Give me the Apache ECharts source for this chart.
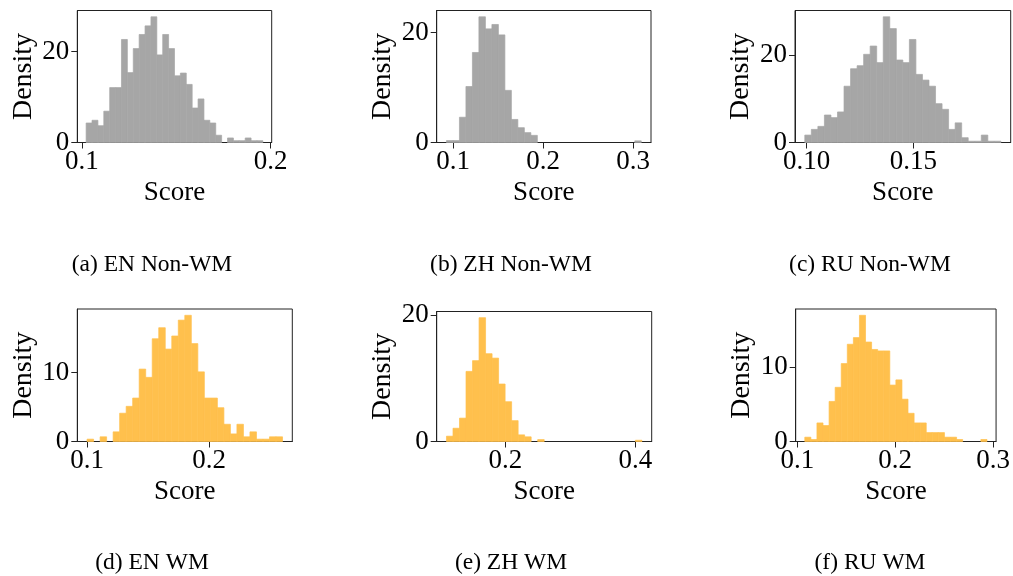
<!DOCTYPE html>
<html lang="en">
<head>
<meta charset="UTF-8">
<title>Score density histograms</title>
<style>
  html, body { margin: 0; padding: 0; background: #fff; }
  #main { width: 1013px; height: 576px; }
</style>
</head>
<body>
<div id="main"></div>
<script src="https://cdn.jsdelivr.net/npm/echarts@6/dist/echarts.min.js"></script>
<script>
// each panel: first bin edge, bin width, density of the 30 bins
var enNonStart = 0.1023, enNonWidth = 0.003119;
var enNonDensity = [4.3, 4.9, 3.7, 6.9, 12.1, 12.1, 22.7, 15.4, 20.7, 23.8, 25.7, 27.7, 19.3, 23.8, 20.7,
    14.7, 15.3, 12.8, 7.6, 9.6, 4.9, 4.3, 1.6, 0, 1.0, 0.4, 0.4, 1.0, 0.4, 0.4];

var zhNonStart = 0.0927, zhNonWidth = 0.00721;
var zhNonDensity = [0.35, 0.35, 4.6, 10.2, 16.4, 22.9, 20.7, 21.5, 19.6, 9.5, 4.2, 2.7, 1.8, 1.3, 0,
    0, 0, 0, 0, 0, 0, 0, 0, 0, 0, 0, 0, 0, 0, 0.3];

var ruNonStart = 0.0991, ruNonWidth = 0.003065;
var ruNonDensity = [1.7, 3.0, 3.7, 6.3, 5.7, 7.0, 12.9, 16.9, 17.6, 20.2, 22.1, 18.3, 28.8, 26.1, 18.9,
    18.3, 23.6, 15.6, 14.3, 12.9, 8.9, 7.6, 3.0, 4.5, 1.1, 0.3, 0.3, 1.7, 0.3, 0.3];

var enWmStart = 0.1, enWmWidth = 0.00534;
var enWmDensity = [0.34, 0, 0.68, 0, 1.4, 4.1, 5.1, 6.3, 10.5, 9.3, 14.9, 16.5, 13.4, 15.3, 17.6,
    18.3, 14.2, 10.1, 6.3, 6.3, 4.9, 2.5, 1.1, 2.5, 0.68, 1.4, 0.34, 0.34, 0.68, 0.68];

var zhWmStart = 0.1095, zhWmWidth = 0.010023;
var zhWmDensity = [0.84, 2.1, 3.7, 11.1, 12.8, 19.6, 13.9, 13.2, 9.1, 6.3, 3.3, 1.05, 0.74, 0, 0.3,
    0, 0, 0, 0, 0, 0, 0, 0, 0, 0, 0, 0, 0, 0, 0.2];

var ruWmStart = 0.1077, ruWmWidth = 0.0062;
var ruWmDensity = [0.58, 0.27, 2.5, 2.15, 5.4, 7.3, 10.5, 13.1, 14.0, 17.0, 13.4, 12.4, 12.2, 12.2, 7.6,
    8.3, 5.7, 3.8, 2.5, 2.5, 1.2, 1.2, 1.2, 0.58, 0.58, 0.27, 0, 0, 0, 0.27];

// tick labels
var enNonXTicks = ['0.1', '0.2'];
var zhNonXTicks = ['0.1', '0.2', '0.3'];
var ruNonXTicks = ['0.10', '0.15'];
var enWmXTicks = ['0.1', '0.2'];
var zhWmXTicks = ['0.2', '0.4'];
var ruWmXTicks = ['0.1', '0.2', '0.3'];
var nonYTicks = [0, 20];
var enWmYTicks = [0, 10];
var zhWmYTicks = [0, 20];
var ruWmYTicks = [0, 10];

var captions = ['(a) EN Non-WM', '(b) ZH Non-WM', '(c) RU Non-WM', '(d) EN WM', '(e) ZH WM', '(f) RU WM'];

var GRAY = '#a6a6a6';
var ORANGE = '#ffc04d';
var FONT = '"Liberation Serif", "DejaVu Serif", serif';
var INK = '#222';

var panels = [
    {start: enNonStart, width: enNonWidth, dens: enNonDensity, xt: enNonXTicks, yt: nonYTicks, color: GRAY,
        box: [77.3, 10.5, 194.4, 132]},
    {start: zhNonStart, width: zhNonWidth, dens: zhNonDensity, xt: zhNonXTicks, yt: nonYTicks, color: GRAY,
        box: [436.7, 10.5, 214.3, 132]},
    {start: ruNonStart, width: ruNonWidth, dens: ruNonDensity, xt: ruNonXTicks, yt: nonYTicks, color: GRAY,
        box: [795, 10.5, 215.7, 132]},
    {start: enWmStart, width: enWmWidth, dens: enWmDensity, xt: enWmXTicks, yt: enWmYTicks, color: ORANGE,
        box: [77.3, 309, 215, 132.5]},
    {start: zhWmStart, width: zhWmWidth, dens: zhWmDensity, xt: zhWmXTicks, yt: zhWmYTicks, color: ORANGE,
        box: [436.7, 311.5, 215, 130]},
    {start: ruWmStart, width: ruWmWidth, dens: ruWmDensity, xt: ruWmXTicks, yt: ruWmYTicks, color: ORANGE,
        box: [795.7, 309, 202.6, 132.5]}
];
var captionPos = [[152, 265], [511, 265], [870, 265], [152, 563], [511, 563], [870, 563]];

var grids = [], xAxes = [], yAxes = [], series = [], graphics = [];

panels.forEach(function (p, i) {
    var n = p.dens.length;
    var lo = p.start, hi = p.start + n * p.width;
    var pad = (hi - lo) * 0.05;
    var ymax = Math.max.apply(null, p.dens) * 1.05;
    var xVals = p.xt.map(Number);

    grids.push({
        left: p.box[0], top: p.box[1], width: p.box[2], height: p.box[3],
        show: true, borderColor: INK, borderWidth: 1, backgroundColor: 'transparent'
    });

    xAxes.push({
        type: 'value', gridIndex: i, min: lo - pad, max: hi + pad,
        splitLine: {show: false},
        axisLine: {show: true, onZero: false, lineStyle: {color: INK, width: 1}},
        axisTick: {show: true, length: 6, customValues: xVals, lineStyle: {color: INK}},
        axisLabel: {
            customValues: xVals, margin: 6, color: '#000', fontFamily: FONT, fontSize: 27,
            formatter: function (v) {
                var best = 0;
                for (var k = 1; k < xVals.length; k++) {
                    if (Math.abs(xVals[k] - v) < Math.abs(xVals[best] - v)) best = k;
                }
                return p.xt[best];
            }
        },
        name: 'Score', nameLocation: 'middle', nameGap: 37,
        nameTextStyle: {color: '#000', fontFamily: FONT, fontSize: 27}
    });

    yAxes.push({
        type: 'value', gridIndex: i, min: 0, max: ymax,
        splitLine: {show: false},
        axisLine: {show: true, onZero: false, lineStyle: {color: INK, width: 1}},
        axisTick: {show: true, length: 6, customValues: p.yt, lineStyle: {color: INK}},
        axisLabel: {customValues: p.yt, margin: 8, color: '#000', fontFamily: FONT, fontSize: 27},
        name: 'Density', nameLocation: 'middle', nameGap: 40,
        nameTextStyle: {color: '#000', fontFamily: FONT, fontSize: 28}
    });

    var data = p.dens.map(function (h, k) {
        return [p.start + k * p.width, p.start + (k + 1) * p.width, h];
    });
    series.push({
        type: 'custom', xAxisIndex: i, yAxisIndex: i, data: data,
        encode: {x: [0, 1], y: 2},
        renderItem: function (params, api) {
            var a = api.coord([api.value(0), 0]);
            var b = api.coord([api.value(1), api.value(2)]);
            if (api.value(2) <= 0) return null;
            return {
                type: 'rect',
                shape: {x: a[0], y: b[1], width: b[0] - a[0], height: a[1] - b[1]},
                // same-colour stroke hides the anti-alias seams between bins
                style: {fill: p.color, stroke: p.color, lineWidth: 0.7}
            };
        }
    });

    graphics.push({
        type: 'text', x: captionPos[i][0], y: captionPos[i][1],
        style: {text: captions[i], fill: '#000', font: '23.5px ' + FONT, textAlign: 'center', textVerticalAlign: 'middle'}
    });
});

var chart = echarts.init(document.getElementById('main'), null, {renderer: 'canvas'});
chart.setOption({
    animation: false,
    backgroundColor: '#fff',
    grid: grids,
    xAxis: xAxes,
    yAxis: yAxes,
    series: series,
    graphic: graphics
});
</script>
</body>
</html>
